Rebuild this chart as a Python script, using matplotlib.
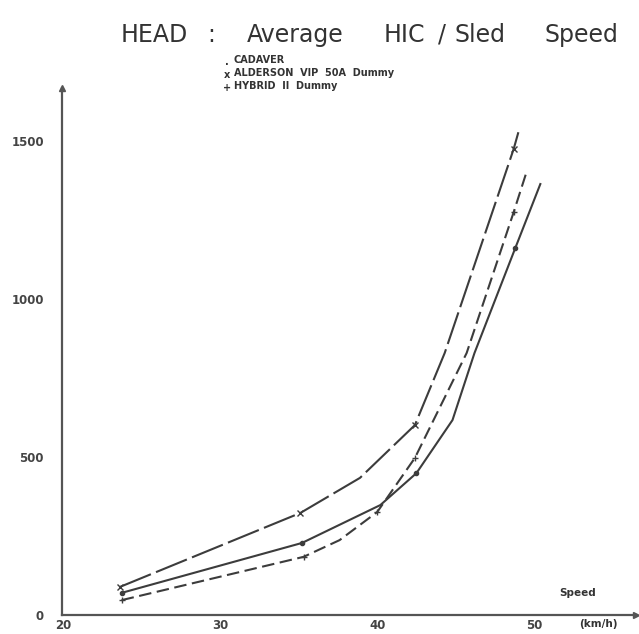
import matplotlib
matplotlib.use("Agg")
import matplotlib.pyplot as plt

plt.rcParams["lines.scale_dashes"] = False

ink = "#3c3c3c"

# curves as drawn (speed km/h, HIC)
cadaver_speed = [23.7, 35.2, 40.2, 42.5, 44.8, 46.2, 48.8, 50.4]
cadaver_hic = [70, 228, 348, 449, 617, 829, 1161, 1364]

alderson_speed = [23.6, 35.1, 38.9, 42.4, 44.3, 48.7, 49.0]
alderson_hic = [89, 323, 434, 601, 829, 1475, 1528]

hybrid_speed = [23.7, 35.3, 37.6, 40.0, 42.4, 45.7, 48.7, 49.5]
hybrid_hic = [47, 184, 237, 326, 497, 829, 1275, 1399]

# test points (markers)
cadaver_pt_speed = [23.7, 35.2, 42.5, 48.8]
cadaver_pt_hic = [70, 228, 449, 1161]
alderson_pt_speed = [23.6, 35.1, 42.4, 48.7]
alderson_pt_hic = [89, 323, 601, 1475]
hybrid_pt_speed = [23.7, 35.3, 40.0, 42.4, 48.7]
hybrid_pt_hic = [47, 184, 326, 497, 1275]

x_ticks = [20, 30, 40, 50]
y_ticks = [0, 500, 1000, 1500]

title_words = ["HEAD", ":", "Average", "HIC", "/", "Sled", "Speed"]
title_left_px = [121, 207, 247, 384, 438, 455, 545]

legend_labels = ["CADAVER", "ALDERSON  VIP  50A  Dummy", "HYBRID  II  Dummy"]

fig = plt.figure(figsize=(6.39, 6.34), dpi=100)
ax = fig.add_axes([62 / 639, 19 / 634, 574 / 639, 527 / 634])
ax.set_xlim(19.9, 56.5)
ax.set_ylim(0, 1668)

ax.plot(cadaver_speed, cadaver_hic, color=ink, lw=1.5)
ax.plot(alderson_speed, alderson_hic, color=ink, lw=1.5, dashes=(24, 4))
ax.plot(hybrid_speed, hybrid_hic, color=ink, lw=1.5, dashes=(9, 4))

ax.plot(cadaver_pt_speed, cadaver_pt_hic, "o", color=ink, ms=3, ls="none")
ax.plot(alderson_pt_speed, alderson_pt_hic, "x", color=ink, ms=4, mew=1, ls="none")
ax.plot(hybrid_pt_speed, hybrid_pt_hic, "+", color=ink, ms=4, mew=1, ls="none")

for s in ["top", "right"]:
    ax.spines[s].set_visible(False)
for s in ["left", "bottom"]:
    ax.spines[s].set_color("#555555")
    ax.spines[s].set_linewidth(1.6)

ax.plot(1, 0, ">", color="#555555", ms=4, transform=ax.transAxes, clip_on=False)
ax.plot(0, 1, "^", color="#555555", ms=4, transform=ax.transAxes, clip_on=False)

ax.set_xticks(x_ticks)
ax.set_yticks(y_ticks)
ax.set_xticklabels([str(v) for v in x_ticks], fontsize=8.5, fontweight="bold", color="#444444")
ax.set_yticklabels([str(v) for v in y_ticks], fontsize=8.5, fontweight="bold", color="#444444")
ax.tick_params(axis="x", length=0, pad=3)
ax.tick_params(axis="y", length=0, pad=13)

for word, px in zip(title_words, title_left_px):
    fig.text(px / 639, 1 - 35 / 634, word, ha="left", va="center",
             fontsize=17, color="#333333")

legend_marks = [".", "x", "+"]
for i, (m, lab) in enumerate(zip(legend_marks, legend_labels)):
    y = 0.902 - i * 0.0205
    fig.text(0.355, y, m, ha="center", va="center", fontsize=7, fontweight="bold", color="#333333")
    fig.text(0.366, y + 0.003, lab, ha="left", va="center", fontsize=7, fontweight="bold",
             color="#333333")

fig.text(578 / 639, 1 - 593 / 634, "Speed", ha="center", va="center", fontsize=7.5,
         fontweight="bold", color="#333333")
fig.text(598 / 639, 1 - 624 / 634, "(km/h)", ha="center", va="center", fontsize=7.5,
         fontweight="bold", color="#333333")

fig.savefig("out.png", dpi=100, facecolor="white")
